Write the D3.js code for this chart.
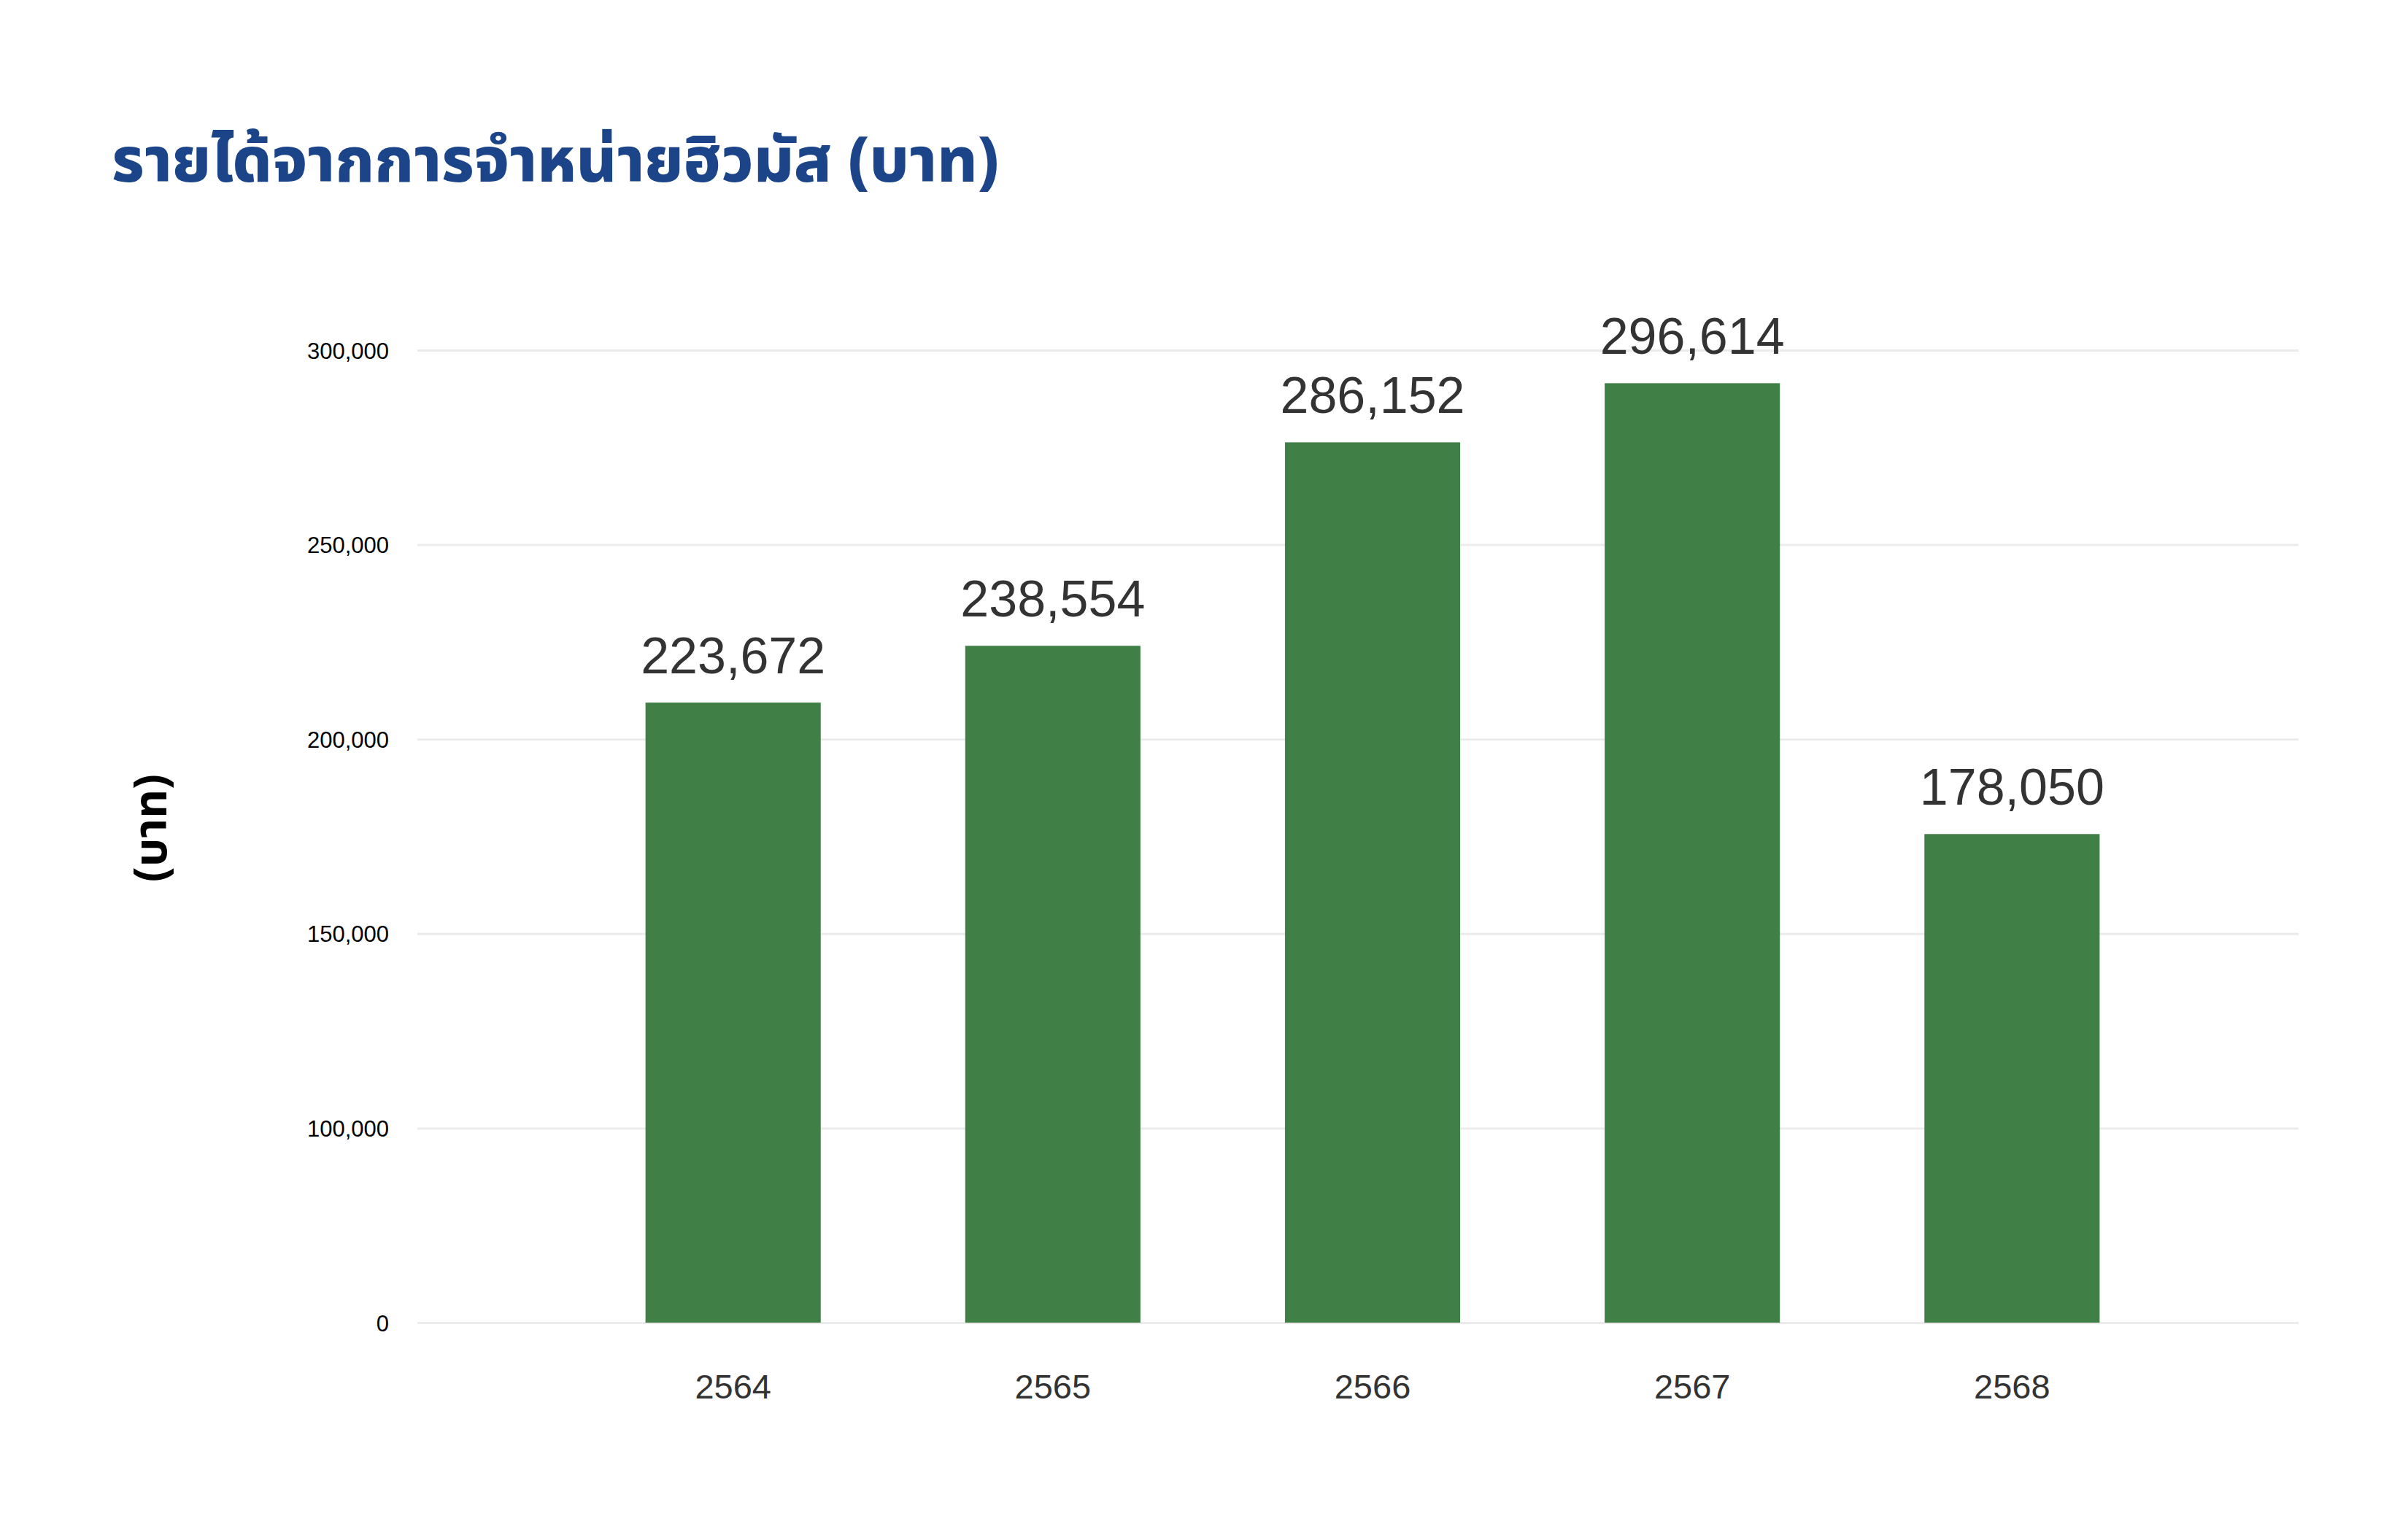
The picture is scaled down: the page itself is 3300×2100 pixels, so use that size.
<!DOCTYPE html>
<html>
<head>
<meta charset="utf-8">
<script src="https://cdn.jsdelivr.net/npm/d3@7"></script>
<style>
  body { margin: 0; background: #fff; }
  svg { display: block; }
  .title { font-family: "Noto Sans Thai", "Kanit", "Prompt", "Sarabun", "Noto Sans", sans-serif; }
  .num { font-family: "Liberation Sans", Arial, Helvetica, sans-serif; }
</style>
</head>
<body>
<div id="chart"></div>
<script>
const years = ["2564", "2565", "2566", "2567", "2568"];
const barValues = [209400, 224000, 276300, 291500, 175600];
const valueLabels = ["223,672", "238,554", "286,152", "296,614", "178,050"];
const yTicks = [0, 100000, 150000, 200000, 250000, 300000];
const titleText = "รายได้จากการจำหน่ายฮิวมัส (บาท)";
const yTitle = "(บาท)";

const width = 3300;
const height = 2100;
const plot = { top: 480, bottom: 1813, left: 572, right: 3150 };
const barColor = "#407f46";

const svg = d3
  .select("#chart")
  .append("svg")
  .attr("width", width)
  .attr("height", height)
  .attr("viewBox", [0, 0, width, height]);

// x: bands centred on the five years, outer padding wider than the gaps
const x = d3
  .scaleBand()
  .domain(years)
  .range([556, 3206])
  .paddingInner(0.452)
  .paddingOuter(0.75);

// y: the 0 tick sits one 50k step under 100k in the original, so piecewise
const step = (plot.bottom - plot.top) / 5;
const y = d3
  .scaleLinear()
  .domain([0, 100000, 300000])
  .range([plot.bottom, plot.bottom - step, plot.top]);

// grid + y tick labels
svg
  .append("g")
  .attr("class", "axis axis--y num")
  .attr("transform", `translate(${plot.left},0)`)
  .call(
    d3
      .axisLeft(y)
      .tickValues(yTicks)
      .tickFormat(d3.format(","))
      .tickSize(-(plot.right - plot.left))
      .tickPadding(39)
  )
  .call((g) => g.select(".domain").remove())
  .call((g) => g.selectAll(".tick line").attr("stroke", "#ebebeb").attr("stroke-width", 3))
  .call((g) =>
    g
      .selectAll(".tick text")
      .attr("fill", "#000")
      .attr("font-size", 31)
      .attr("dy", "0.36em")
  )
  .attr("font-family", null);

// bars
svg
  .append("g")
  .selectAll("rect")
  .data(years)
  .join("rect")
  .attr("x", (d) => x(d))
  .attr("width", x.bandwidth())
  .attr("y", (d, i) => y(barValues[i]))
  .attr("height", (d, i) => y(0) - y(barValues[i]))
  .attr("fill", barColor);

// value labels above the bars
svg
  .append("g")
  .attr("class", "num")
  .selectAll("text")
  .data(years)
  .join("text")
  .attr("x", (d) => x(d) + x.bandwidth() / 2)
  .attr("y", (d, i) => y(barValues[i]) - 40)
  .attr("text-anchor", "middle")
  .attr("font-size", 70)
  .attr("fill", "#333")
  .text((d, i) => valueLabels[i]);

// x axis labels
svg
  .append("g")
  .attr("class", "axis axis--x num")
  .attr("transform", `translate(0,${plot.bottom})`)
  .call(d3.axisBottom(x).tickSize(0).tickPadding(0))
  .call((g) => g.select(".domain").remove())
  .call((g) =>
    g
      .selectAll(".tick text")
      .attr("fill", "#333")
      .attr("font-size", 47)
      .attr("y", 104)
      .attr("dy", null)
  )
  .attr("font-family", null);

// y axis title
svg
  .append("text")
  .attr("class", "title")
  .attr("transform", `translate(206,1135)rotate(-90)`)
  .attr("text-anchor", "middle")
  .attr("dy", "0.35em")
  .attr("font-size", 62)
  .attr("font-weight", 700)
  .attr("fill", "#000")
  .text(yTitle);

// chart title
svg
  .append("text")
  .attr("class", "title")
  .attr("x", 153)
  .attr("y", 249)
  .attr("font-size", 85)
  .attr("font-weight", 800)
  .attr("fill", "#1b4489")
  .text(titleText);
</script>
</body>
</html>
